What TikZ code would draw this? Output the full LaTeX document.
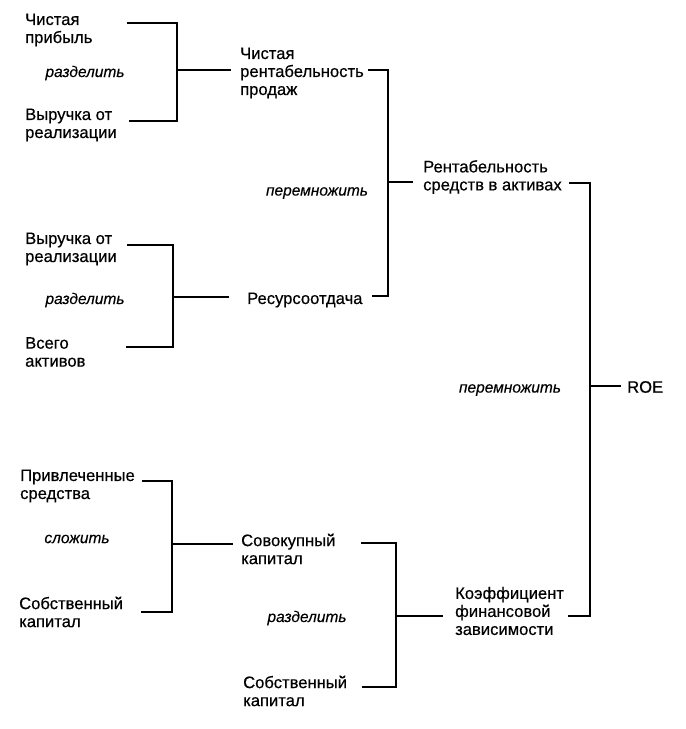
\documentclass[tikz,border=0pt]{standalone}
\usepackage{fontspec}
\setmainfont{Liberation Sans}
\newfontfamily\lblfont[FakeBold=0.5]{Liberation Sans}
\newfontfamily\opfont[FakeBold=0.3]{Liberation Sans Italic}
\begin{document}
\begin{tikzpicture}[x=1pt,y=-1pt,
  lbl/.style={anchor=west,align=left,inner sep=0pt,font=\lblfont\fontsize{16.6}{18}\selectfont},
  oplbl/.style={anchor=center,inner sep=0pt,font=\opfont\fontsize{15.5}{17}\selectfont},
  conn/.style={line width=1.6pt,line cap=rect}]
\useasboundingbox (0,0) rectangle (686,729);
% nodes
\node[lbl] (n1) at (25,30) {Чистая\\прибыль};
\node[oplbl] (op1) at (85,73) {разделить};
\node[lbl] (n2) at (25,125) {Выручка от\\реализации};
\node[lbl] (n3) at (240,73) {Чистая\\рентабельность\\продаж};
\node[oplbl] (op2) at (317,193) {перемножить};
\node[lbl] (n4) at (25,249) {Выручка от\\реализации};
\node[oplbl] (op3) at (85,300) {разделить};
\node[lbl] (n5) at (25,352) {Всего\\активов};
\node[lbl] (n6) at (247,300) {Ресурсоотдача};
\node[lbl] (n7) at (423,177) {Рентабельность\\средств в активах};
\node[oplbl] (op4) at (510,390) {перемножить};
\node[lbl] (n8) at (627,387) {ROE};
\node[lbl] (n9) at (20,486) {Привлеченные\\средства};
\node[oplbl] (op5) at (77,539) {сложить};
\node[lbl] (n10) at (19,612) {Собственный\\капитал};
\node[lbl] (n11) at (241,549) {Совокупный\\капитал};
\node[oplbl] (op6) at (307,618) {разделить};
\node[lbl] (n12) at (243,691) {Собственный\\капитал};
\node[lbl] (n13) at (455,611) {Коэффициент\\финансовой\\зависимости};
% connector ends
\coordinate (a1) at (128,23);  \coordinate (a2) at (130,121);
\coordinate (k1) at (177,70);  \coordinate (t1) at (230,70);
\coordinate (a3) at (369,70);  \coordinate (a4) at (373,296);
\coordinate (k2) at (388,182); \coordinate (t2) at (412,182);
\coordinate (a5) at (128,245); \coordinate (a6) at (127,347);
\coordinate (k3) at (173,297); \coordinate (t3) at (228,297);
\coordinate (a7) at (570,183); \coordinate (a8) at (569,616);
\coordinate (k4) at (590,386); \coordinate (t4) at (620,386);
\coordinate (a9) at (143,481); \coordinate (a10) at (142,612);
\coordinate (k5) at (172,544); \coordinate (t5) at (232,544);
\coordinate (a11) at (362,543); \coordinate (a12) at (363,687);
\coordinate (k6) at (396,616); \coordinate (t6) at (442,616);
% brackets
\draw[conn] (a1) -| (k1) |- (a2); \draw[conn] (k1) -- (t1);
\draw[conn] (a3) -| (k2) |- (a4); \draw[conn] (k2) -- (t2);
\draw[conn] (a5) -| (k3) |- (a6); \draw[conn] (k3) -- (t3);
\draw[conn] (a7) -| (k4) |- (a8); \draw[conn] (k4) -- (t4);
\draw[conn] (a9) -| (k5) |- (a10); \draw[conn] (k5) -- (t5);
\draw[conn] (a11) -| (k6) |- (a12); \draw[conn] (k6) -- (t6);
\end{tikzpicture}
\end{document}
